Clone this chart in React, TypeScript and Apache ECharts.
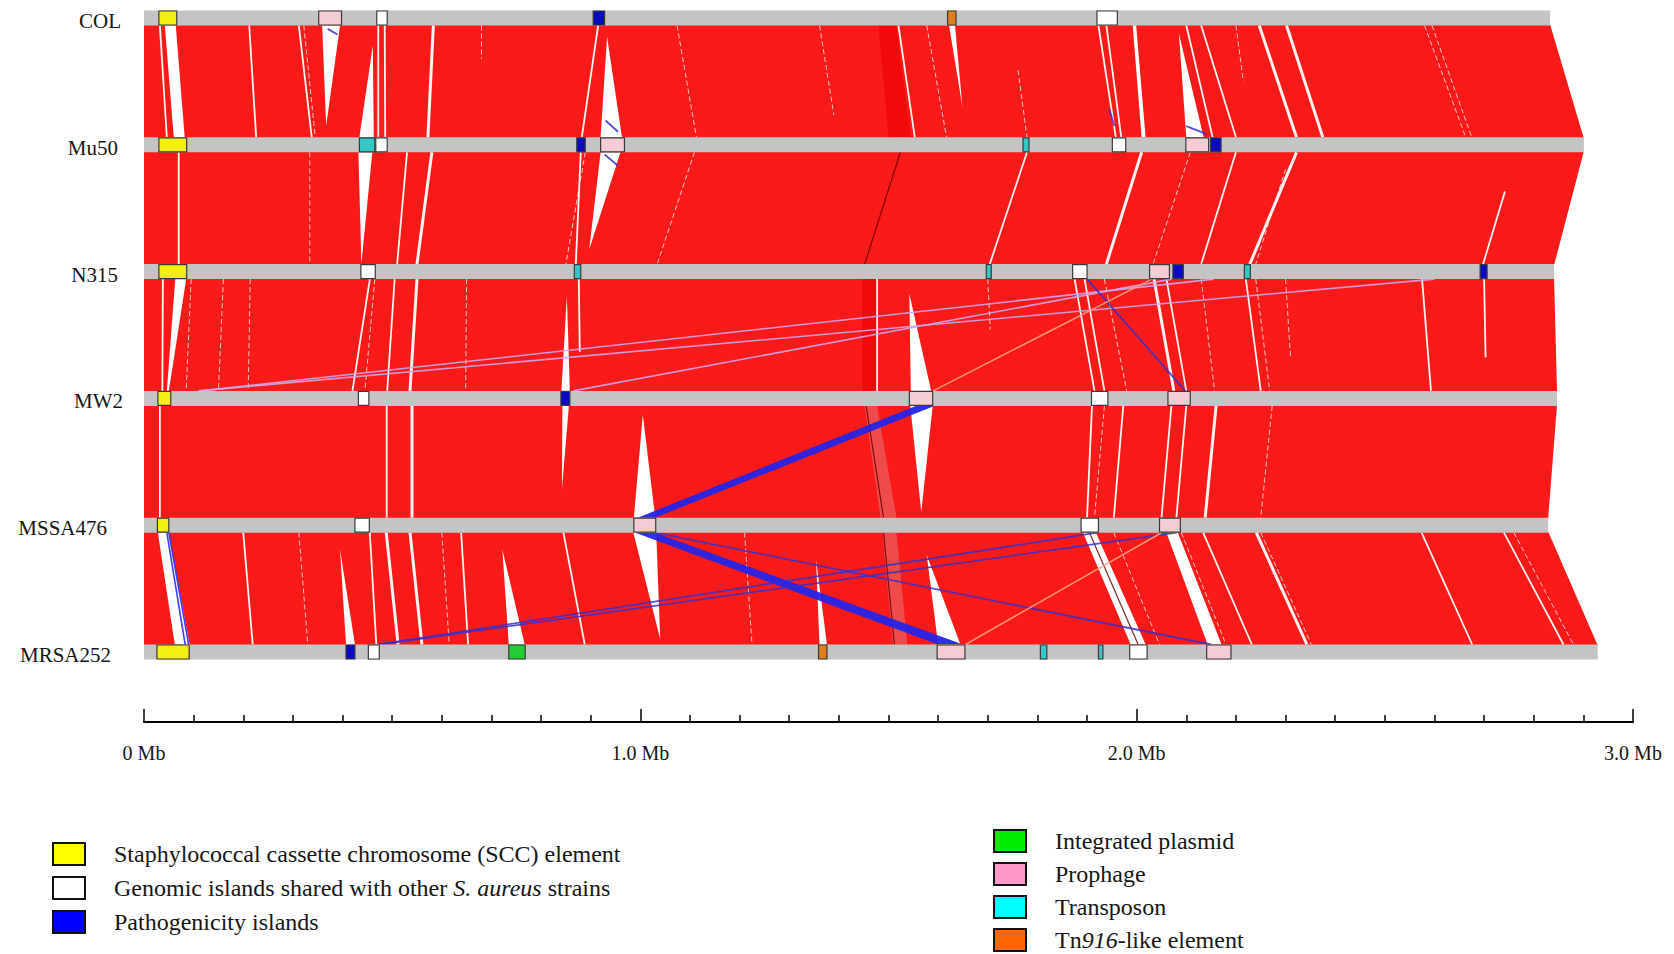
import React, { useEffect, useRef } from 'react';
import * as echarts from 'echarts';

// ---------- data ----------
const trackNames = ['COL', 'Mu50', 'N315', 'MW2', 'MSSA476', 'MRSA252'];
const genomeLengths = [2.833, 2.901, 2.841, 2.847, 2.829, 2.929]; // Mb as drawn

// features: [track, startMb, endMb]
const sccElements = [[0, 0.03, 0.066], [1, 0.03, 0.086], [2, 0.03, 0.086], [3, 0.028, 0.054], [4, 0.027, 0.05], [5, 0.026, 0.091]];
const genomicIslands = [[0, 0.469, 0.49], [0, 1.92, 1.961], [1, 0.467, 0.49], [1, 1.951, 1.978], [2, 0.437, 0.466], [2, 1.871, 1.9], [3, 0.432, 0.453], [3, 1.909, 1.942], [4, 0.425, 0.454], [4, 1.888, 1.923], [5, 0.452, 0.474], [5, 1.986, 2.021]];
const pathogenicityIslands = [[0, 0.905, 0.928], [1, 0.872, 0.889], [1, 2.149, 2.17], [2, 2.073, 2.094], [2, 2.692, 2.706], [3, 0.84, 0.858], [5, 0.407, 0.425]];
const integratedPlasmids = [[5, 0.735, 0.768]];
const prophages = [[0, 0.352, 0.398], [1, 0.92, 0.968], [1, 2.099, 2.145], [2, 2.026, 2.066], [3, 1.542, 1.589], [3, 2.063, 2.108], [4, 0.987, 1.031], [4, 2.046, 2.088], [5, 1.598, 1.654], [5, 2.141, 2.19]];
const transposons = [[1, 0.434, 0.465], [1, 1.771, 1.783], [2, 0.867, 0.88], [2, 1.697, 1.707], [2, 2.217, 2.229], [5, 1.806, 1.819], [5, 1.923, 1.932]];
const tn916Elements = [[0, 1.619, 1.636], [5, 1.359, 1.376]];

// unmatched (white) regions between adjacent genomes: [band, x,t, x,t, x,t (, x,t)]
// x in Mb, t = 0 at the upper genome, 1 at the lower genome
const gapRegions = [
  [0, 0.042, 0, 0.064, 0, 0.082, 1, 0.06, 1],
  [0, 0.359, 0, 0.395, 0, 0.367, 0.9],
  [0, 0.461, 0.18, 0.463, 1, 0.434, 1],
  [0, 0.933, 0.1, 0.963, 1, 0.92, 1],
  [0, 1.622, 0, 1.634, 0, 1.649, 0.73],
  [0, 2.085, 0.07, 2.135, 1, 2.1, 1],
  [0, 1.992, 0, 1.999, 0, 2.018, 1, 2.01, 1],
  [1, 0.432, 0, 0.46, 0, 0.438, 1],
  [1, 0.92, 0, 0.96, 0, 0.897, 0.87],
  [2, 0.063, 0, 0.085, 0, 0.05, 1, 0.046, 1],
  [2, 0.852, 0.15, 0.858, 1, 0.841, 1],
  [2, 1.542, 0.13, 1.586, 1, 1.545, 1],
  [3, 0.843, 0, 0.856, 0, 0.842, 0.75],
  [3, 1.005, 0.08, 1.03, 1, 0.987, 1],
  [3, 1.544, 0, 1.589, 0, 1.566, 0.95],
  [4, 0.028, 0, 0.05, 0, 0.092, 1, 0.062, 1],
  [4, 0.395, 0.15, 0.425, 1, 0.407, 1],
  [4, 0.722, 0.15, 0.767, 1, 0.735, 1],
  [4, 0.986, 0, 1.032, 0, 1.04, 0.95],
  [4, 1.354, 0.24, 1.376, 1, 1.361, 1],
  [4, 1.577, 0.2, 1.645, 1, 1.6, 1],
  [4, 1.892, 0, 1.918, 0, 2.018, 1, 1.988, 1],
  [4, 2.06, 0, 2.083, 0, 2.171, 1, 2.143, 1],
];

// small indels: [band, x1, t1, x2, t2]
const indelLines = [
  [0, 0.032, 0, 0.046, 1], [0, 0.212, 0, 0.226, 1], [0, 0.312, 0, 0.338, 1], [0, 0.472, 0, 0.472, 1],
  [0, 0.485, 0, 0.486, 1], [0, 0.915, 0, 0.882, 1], [0, 1.52, 0, 1.553, 1], [0, 1.923, 0, 1.958, 1],
  [0, 1.939, 0, 1.969, 1], [0, 2.1, 0, 2.153, 1], [0, 2.13, 0, 2.2, 1],
  [1, 0.07, 0, 0.07, 1], [1, 0.53, 0, 0.51, 1], [1, 0.88, 0, 0.87, 1], [1, 1.779, 0, 1.704, 1],
  [1, 2.2, 0, 2.13, 1], [1, 2.742, 0.35, 2.698, 1],
  [2, 0.038, 0, 0.037, 1], [2, 0.455, 0, 0.42, 1], [2, 0.505, 0, 0.49, 1], [2, 0.876, 0, 0.878, 0.65],
  [2, 1.477, 0, 1.477, 1], [2, 1.875, 0, 1.915, 1], [2, 1.895, 0, 1.935, 1], [2, 2.06, 0, 2.1, 1],
  [2, 2.22, 0, 2.25, 1], [2, 2.575, 0, 2.593, 1], [2, 2.7, 0, 2.703, 0.7],
  [3, 0.032, 0, 0.032, 1], [3, 0.489, 0, 0.489, 1], [3, 1.91, 0, 1.9, 1], [3, 1.973, 0, 1.954, 1],
  [3, 2.07, 0, 2.05, 1], [3, 2.1, 0, 2.08, 1],
  [4, 0.2, 0, 0.219, 1], [4, 0.455, 0, 0.468, 1], [4, 0.639, 0, 0.653, 1], [4, 0.845, 0, 0.888, 1],
  [4, 2.134, 0, 2.232, 1], [4, 2.574, 0, 2.676, 1], [4, 2.74, 0, 2.86, 1],
];
const wideIndelLines = [
  [0, 0.583, 0, 0.572, 1], [0, 2.247, 0, 2.322, 1], [0, 2.302, 0, 2.375, 1],
  [1, 0.58, 0, 0.55, 1], [1, 2.01, 0, 1.939, 1], [1, 2.322, 0, 2.228, 1],
  [2, 0.55, 0, 0.536, 1], [2, 2.035, 0, 2.075, 1],
  [3, 0.54, 0, 0.54, 1], [3, 2.16, 0, 2.138, 1],
  [4, 0.488, 0, 0.512, 1], [4, 0.536, 0, 0.56, 1], [4, 2.241, 0, 2.343, 1],
];
const faintIndelLines = [
  [0, 0.322, 0, 0.345, 1], [0, 0.68, 0, 0.68, 0.3], [0, 1.074, 0, 1.113, 1], [0, 1.361, 0, 1.39, 0.8],
  [0, 1.577, 0, 1.617, 1], [0, 1.761, 0.4, 1.779, 1], [0, 2.2, 0, 2.215, 0.5], [0, 2.58, 0, 2.663, 1],
  [0, 2.595, 0, 2.675, 1],
  [1, 0.334, 0, 0.334, 1], [1, 0.889, 0, 0.85, 1], [1, 1.109, 0, 1.034, 1], [1, 2.108, 0, 2.033, 1],
  [1, 2.3, 0.15, 2.24, 1],
  [2, 0.095, 0, 0.085, 1], [2, 0.16, 0, 0.15, 1], [2, 0.214, 0, 0.21, 1], [2, 0.465, 0, 0.445, 1],
  [2, 0.65, 0, 0.648, 1], [2, 1.7, 0, 1.705, 0.45], [2, 1.935, 0, 1.98, 1], [2, 2.13, 0, 2.157, 1],
  [2, 2.24, 0, 2.268, 1], [2, 2.3, 0, 2.31, 0.7],
  [3, 1.935, 0, 1.915, 1], [3, 2.273, 0, 2.25, 1],
  [4, 0.312, 0, 0.33, 1], [4, 0.6, 0, 0.615, 1], [4, 1.21, 0, 1.225, 1], [4, 1.954, 0, 2.046, 1],
  [4, 2.09, 0, 2.18, 1], [4, 2.25, 0, 2.352, 1], [4, 2.76, 0, 2.88, 1],
];
const darkLines = [[1, 1.524, 0, 1.452, 1], [3, 1.455, 0, 1.49, 1], [4, 1.49, 0, 1.512, 1], [4, 1.905, 0, 2.003, 1]];

// [band, topStart, topEnd, bottomStart, bottomEnd]
const paleStripes = [[3, 1.452, 1.477, 1.484, 1.516], [4, 1.488, 1.516, 1.509, 1.538]];
const deepStripes = [[0, 1.48, 1.515, 1.5, 1.545], [2, 1.447, 1.476, 1.447, 1.476]];
const inversionRibbons = [[3, 1.555, 1.592, 0.995, 1.03], [4, 0.99, 1.03, 1.6, 1.65]];

// rearranged matches: [band, x1, t1, x2, t2]
const lavenderLinks = [[2, 0.11, 1, 2.6, 0], [2, 0.115, 1, 2.155, 0], [2, 0.865, 1, 2.07, 0]];
const purpleLinks = [
  [2, 1.9, 0, 2.098, 1], [4, 0.474, 1, 1.92, 0], [4, 0.474, 1, 2.08, 0], [4, 1.03, 0, 2.15, 1],
  [0, 0.93, 0.85, 0.955, 0.95], [1, 0.928, 0.02, 0.955, 0.12], [0, 2.1, 0.9, 2.14, 0.97],
  [0, 0.37, 0.03, 0.39, 0.08], [0, 1.945, 0.75, 1.955, 0.9],
];
const salmonLinks = [[2, 1.59, 1, 2.03, 0], [4, 1.655, 1, 2.05, 0]];
const blueLinks = [[4, 0.05, 0, 0.09, 1], [4, 0.046, 0, 0.083, 1]];

// ---------- drawing helpers ----------
const BAR_H = 15;
const BOX_H = 14;
const SERIF = '"Liberation Serif", "DejaVu Serif", serif';

function bandPoint(api: any, band: number, x: number, t: number) {
  const a = api.coord([x, band]);
  const b = api.coord([x, band + 1]);
  const y1 = a[1] + BAR_H / 2;
  const y2 = b[1] - BAR_H / 2;
  return [a[0], y1 + (y2 - y1) * t];
}

function polySeries(rows: number[][], fill: string, z: number, opacity = 1) {
  return {
    type: 'custom', silent: true, z,
    data: rows.map((r) => [r[1], r[0]]),
    renderItem: (params: any, api: any) => {
      const r = rows[params.dataIndex];
      const pts: number[][] = [];
      for (let k = 1; k + 1 < r.length; k += 2) pts.push(bandPoint(api, r[0], r[k], r[k + 1]));
      return { type: 'polygon', shape: { points: pts }, style: { fill, opacity } };
    },
  };
}

function quadSeries(rows: number[][], fill: string, z: number, opacity = 1) {
  return {
    type: 'custom', silent: true, z,
    data: rows.map((r) => [r[1], r[0]]),
    renderItem: (params: any, api: any) => {
      const r = rows[params.dataIndex];
      const pts = [bandPoint(api, r[0], r[1], 0), bandPoint(api, r[0], r[2], 0), bandPoint(api, r[0], r[4], 1), bandPoint(api, r[0], r[3], 1)];
      return { type: 'polygon', shape: { points: pts }, style: { fill, opacity } };
    },
  };
}

function lineSeries(rows: number[][], stroke: string, width: number, z: number, opacity = 1, dash: any = null) {
  return {
    type: 'custom', silent: true, z,
    data: rows.map((r) => [r[1], r[0]]),
    renderItem: (params: any, api: any) => {
      const r = rows[params.dataIndex];
      const p1 = bandPoint(api, r[0], r[1], r[2]);
      const p2 = bandPoint(api, r[0], r[3], r[4]);
      return {
        type: 'line',
        shape: { x1: p1[0], y1: p1[1], x2: p2[0], y2: p2[1] },
        style: { stroke, lineWidth: width, opacity, lineDash: dash },
      };
    },
  };
}

function featureSeries(name: string, rows: number[][], color: string) {
  return {
    type: 'custom', name, z: 20, silent: true,
    itemStyle: { color },
    data: rows.map((r) => [r[1], r[0], r[2]]),
    renderItem: (params: any, api: any) => {
      const s = api.coord([api.value(0), api.value(1)]);
      const e = api.coord([api.value(2), api.value(1)]);
      return {
        type: 'rect',
        shape: { x: s[0], y: s[1] - BOX_H / 2, width: Math.max(e[0] - s[0], 4), height: BOX_H },
        style: { fill: color, stroke: '#3a3a3a', lineWidth: 1.2 },
      };
    },
  };
}

const NAMES = {
  scc: 'Staphylococcal cassette chromosome (SCC) element',
  gi: 'Genomic islands shared with other S. aureus strains',
  pi: 'Pathogenicity islands',
  ip: 'Integrated plasmid',
  ph: 'Prophage',
  tp: 'Transposon',
  tn: 'Tn916-like element',
};

const legendColors: Record<string, string> = {
  [NAMES.scc]: '#ffff00', [NAMES.gi]: '#ffffff', [NAMES.pi]: '#0000ff',
  [NAMES.ip]: '#00ee00', [NAMES.ph]: '#ff99cc', [NAMES.tp]: '#00ffff', [NAMES.tn]: '#ff6600',
};

function legendFormatter(name: string) {
  if (name === NAMES.gi) return '{a|Genomic islands shared with other }{i|S. aureus}{a| strains}';
  if (name === NAMES.tn) return '{a|Tn}{i|916}{a|-like element}';
  return '{a|' + name + '}';
}

const legendText = {
  fontFamily: SERIF, fontSize: 24, color: '#151515', lineHeight: 24,
  padding: [0, 0, 0, 24],
  rich: {
    a: { fontFamily: SERIF, fontSize: 24, color: '#151515', lineHeight: 24 },
    i: { fontFamily: SERIF, fontSize: 24, color: '#151515', fontStyle: 'italic', lineHeight: 24 },
  },
};

const labelPad = [2, 5, 5, 0, 16, 12];
const trackRich: Record<string, any> = {};
trackNames.forEach((_, i) => {
  trackRich['t' + i] = { fontFamily: SERIF, fontSize: 21, color: '#151515', padding: [6, labelPad[i], 0, 0] };
});

export default function App() {
  const ref = useRef<HTMLDivElement>(null);
  useEffect(() => {
    if (!ref.current) return;
    const chart = echarts.init(ref.current, undefined, { renderer: 'svg' });
    const legendItem = (n: string) => ({ name: n, itemStyle: { color: legendColors[n], borderColor: '#111', borderWidth: 2 } });
    chart.setOption({
      animation: false,
      backgroundColor: '#ffffff',
      grid: { left: 144, right: 41, top: 18, bottom: 302, containLabel: false },
      xAxis: {
        type: 'value', min: 0, max: 3, interval: 1, offset: 70, position: 'bottom',
        axisLine: { show: true, onZero: false, lineStyle: { color: '#000', width: 2 } },
        axisTick: { show: true, inside: true, length: 13, lineStyle: { color: '#000', width: 1.5 } },
        minorTick: { show: true, splitNumber: 10, length: 7, lineStyle: { color: '#000', width: 1.5 } },
        splitLine: { show: false },
        axisLabel: {
          formatter: (v: number) => (v === 0 ? '0 Mb' : v.toFixed(1) + ' Mb'),
          fontFamily: SERIF, fontSize: 20, color: '#151515', margin: 21,
        },
      },
      yAxis: {
        type: 'value', min: 0, max: 5, interval: 1, inverse: true,
        axisLine: { show: false }, axisTick: { show: false }, splitLine: { show: false },
        axisLabel: {
          margin: 21,
          formatter: (v: number) => '{t' + v + '|' + trackNames[v] + '}',
          rich: trackRich,
        },
      },
      legend: [
        {
          orient: 'vertical', left: 52, top: 842, padding: 0, itemWidth: 32, itemHeight: 22, itemGap: 10,
          selectedMode: false, icon: 'rect', formatter: legendFormatter, textStyle: legendText,
          data: [NAMES.scc, NAMES.gi, NAMES.pi].map(legendItem),
        },
        {
          orient: 'vertical', left: 993, top: 829, padding: 0, itemWidth: 32, itemHeight: 22, itemGap: 9,
          selectedMode: false, icon: 'rect', formatter: legendFormatter, textStyle: legendText,
          data: [NAMES.ip, NAMES.ph, NAMES.tp, NAMES.tn].map(legendItem),
        },
      ],
      series: [
        {
          type: 'custom', silent: true, z: 1,
          data: genomeLengths.slice(0, 5).map((l, i) => [l, i]),
          renderItem: (params: any, api: any) => {
            const i = params.dataIndex;
            const pts = [
              bandPoint(api, i, 0, -0.01), bandPoint(api, i, genomeLengths[i], -0.01),
              bandPoint(api, i, genomeLengths[i + 1], 1.01), bandPoint(api, i, 0, 1.01),
            ];
            return { type: 'polygon', shape: { points: pts }, style: { fill: '#fa1a1a' } };
          },
        },
        quadSeries(deepStripes, '#f20a0a', 2),
        quadSeries(paleStripes, '#ef4b4b', 2),
        polySeries(gapRegions, '#ffffff', 3),
        lineSeries(faintIndelLines, '#ffffff', 1, 4, 0.75, [5, 3]),
        lineSeries(indelLines, '#ffffff', 1.8, 4, 0.95),
        lineSeries(wideIndelLines, '#ffffff', 3, 4, 0.95),
        lineSeries(darkLines, '#6a0000', 1.2, 5, 0.85),
        quadSeries(inversionRibbons, '#2424e8', 6, 0.95),
        lineSeries(lavenderLinks, '#cfa6ee', 1.6, 6, 0.9),
        lineSeries(purpleLinks, '#3b2fc8', 1.8, 6, 0.85),
        lineSeries(salmonLinks, '#ffa07e', 1.6, 6, 0.9),
        lineSeries(blueLinks, '#2a2aff', 1.6, 6, 0.9),
        {
          type: 'custom', silent: true, z: 10,
          data: genomeLengths.map((l, i) => [l, i]),
          renderItem: (params: any, api: any) => {
            const s = api.coord([0, api.value(1)]);
            const e = api.coord([api.value(0), api.value(1)]);
            return { type: 'rect', shape: { x: s[0], y: s[1] - BAR_H / 2, width: e[0] - s[0], height: BAR_H }, style: { fill: '#c4c4c4' } };
          },
        },
        featureSeries(NAMES.scc, sccElements, '#f4ef12'),
        featureSeries(NAMES.gi, genomicIslands, '#ffffff'),
        featureSeries(NAMES.pi, pathogenicityIslands, '#0a0ac2'),
        featureSeries(NAMES.ip, integratedPlasmids, '#22cc33'),
        featureSeries(NAMES.ph, prophages, '#f5ccd3'),
        featureSeries(NAMES.tp, transposons, '#35c6c6'),
        featureSeries(NAMES.tn, tn916Elements, '#e0801c'),
      ],
    });
    return () => chart.dispose();
  }, []);
  return <div ref={ref} style={{ position: 'fixed', left: 0, top: 0, width: 1674, height: 954 }} />;
}
